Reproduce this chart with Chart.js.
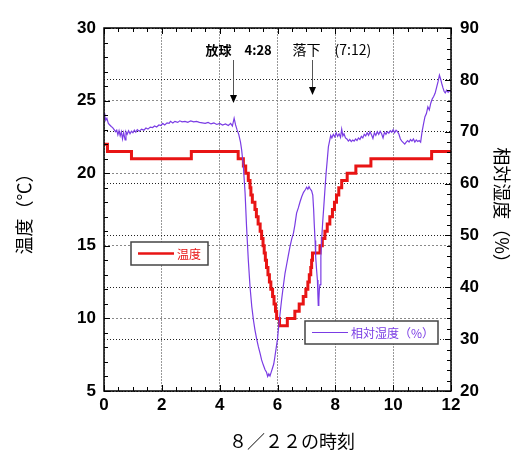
<!DOCTYPE html>
<html>
<head>
<meta charset="utf-8">
<script src="https://cdn.jsdelivr.net/npm/chart.js@4/dist/chart.umd.min.js"></script>
<style>
  body { margin: 0; background: #fff; }
</style>
</head>
<body>
<canvas id="graph1" width="513" height="452"></canvas>
<script>
// 温度: step start time (h) and value (℃)
const tempHours  = [0, 0.12, 0.95, 3.02, 4.64, 4.82, 4.90, 4.99, 5.05, 5.08, 5.13, 5.22, 5.27, 5.33, 5.40, 5.45, 5.50, 5.54, 5.58, 5.62, 5.67, 5.72, 5.77, 5.83, 5.88, 5.93, 5.97, 6.07, 6.34, 6.60, 6.75, 6.89, 6.98, 7.05, 7.10, 7.15, 7.18, 7.21, 7.47, 7.55, 7.64, 7.72, 7.81, 7.90, 7.97, 8.04, 8.12, 8.22, 8.41, 8.71, 9.23, 11.33, 12];
const tempValues = [22, 21.5, 21, 21.5, 21, 20.5, 20, 19.5, 19, 18.5, 18, 17.5, 17, 16.5, 16, 15.5, 15, 14.5, 14, 13.5, 13, 12.5, 12, 11.5, 11, 10.5, 10, 9.5, 10, 10.5, 11, 11.5, 12, 12.5, 13, 13.5, 14, 14.5, 15, 15.5, 16, 16.5, 17, 17.5, 18, 18.5, 19, 19.5, 20, 20.5, 21, 21.5, 21.5];

// 相対湿度 (%)
const humHours  = [0, 0.03, 0.06, 0.10, 0.15, 0.20, 0.25, 0.30, 0.35, 0.40, 0.44, 0.48, 0.52, 0.56, 0.60, 0.64, 0.68, 0.73, 0.76, 0.80, 0.85, 0.90, 0.95, 1.00, 1.05, 1.10, 1.15, 1.22, 1.30, 1.38, 1.45, 1.52, 1.60, 1.68, 1.75, 1.82, 1.90, 1.97, 2.03, 2.10, 2.18, 2.25, 2.30, 2.38, 2.45, 2.55, 2.62, 2.70, 2.80, 2.90, 3.00, 3.10, 3.20, 3.30, 3.40, 3.50, 3.60, 3.70, 3.80, 3.90, 4.00, 4.10, 4.20, 4.30, 4.38, 4.44, 4.50, 4.55, 4.60, 4.66, 4.72, 4.76, 4.82, 4.88, 4.93, 4.99, 5.05, 5.11, 5.17, 5.22, 5.28, 5.34, 5.40, 5.45, 5.51, 5.57, 5.62, 5.66, 5.70, 5.74, 5.78, 5.82, 5.87, 5.91, 5.96, 6.00, 6.03, 6.08, 6.14, 6.20, 6.26, 6.31, 6.37, 6.43, 6.49, 6.55, 6.60, 6.66, 6.72, 6.78, 6.84, 6.90, 6.96, 7.01, 7.05, 7.09, 7.13, 7.18, 7.22, 7.25, 7.27, 7.30, 7.32, 7.35, 7.38, 7.40, 7.41, 7.43, 7.45, 7.47, 7.50, 7.53, 7.56, 7.60, 7.64, 7.68, 7.72, 7.76, 7.80, 7.84, 7.88, 7.93, 7.98, 8.03, 8.08, 8.13, 8.18, 8.22, 8.26, 8.30, 8.35, 8.40, 8.45, 8.50, 8.55, 8.60, 8.65, 8.70, 8.75, 8.80, 8.85, 8.90, 8.95, 9.00, 9.05, 9.10, 9.15, 9.20, 9.25, 9.30, 9.35, 9.40, 9.45, 9.50, 9.55, 9.60, 9.65, 9.70, 9.75, 9.80, 9.85, 9.90, 9.95, 10.00, 10.05, 10.10, 10.15, 10.20, 10.25, 10.30, 10.35, 10.40, 10.45, 10.50, 10.55, 10.60, 10.65, 10.70, 10.75, 10.80, 10.85, 10.90, 10.95, 11.00, 11.05, 11.10, 11.15, 11.20, 11.25, 11.30, 11.35, 11.40, 11.45, 11.50, 11.55, 11.60, 11.64, 11.68, 11.72, 11.76, 11.80, 11.85, 11.90, 11.95, 12.00];
const humValues = [73.5, 73.0, 72.2, 72.6, 71.6, 71.3, 71.0, 70.8, 70.4, 70.0, 70.3, 69.4, 70.2, 69.2, 70.0, 68.6, 69.8, 68.4, 70.0, 69.5, 70.2, 69.6, 70.1, 69.8, 70.3, 69.9, 70.4, 70.1, 70.5, 70.3, 70.7, 70.5, 70.9, 70.8, 71.1, 70.9, 71.3, 71.2, 71.6, 71.3, 71.7, 71.6, 72.0, 71.7, 72.0, 71.8, 72.1, 71.9, 72.0, 71.8, 72.1, 71.9, 72.0, 71.8, 71.7, 71.6, 71.8, 71.5, 71.7, 71.4, 71.6, 71.3, 71.5, 71.2, 71.6, 71.1, 72.6, 71.3, 70.4, 69.5, 68.0, 66.5, 63.3, 58.1, 51.7, 45.3, 40.1, 36.3, 33.6, 31.8, 30.0, 28.5, 27.2, 26.0, 25.0, 24.1, 23.6, 22.8, 23.3, 22.9, 23.6, 24.3, 25.2, 26.6, 28.5, 30.0, 31.8, 34.5, 37.5, 40.2, 42.7, 44.2, 46.0, 47.8, 49.3, 50.4, 52.0, 54.3, 55.3, 56.5, 57.5, 58.3, 58.8, 59.3, 58.9, 59.4, 59.0, 58.6, 57.8, 55.0, 52.3, 49.0, 45.9, 43.5, 41.4, 38.0, 36.5, 37.5, 39.8, 40.5, 45.9, 49.5, 52.3, 55.5, 58.8, 62.0, 64.5, 67.1, 68.2, 69.3, 68.8, 69.5, 69.0, 69.8, 69.1, 69.6, 68.9, 70.5, 69.2, 69.6, 68.8, 68.6, 68.2, 68.5, 68.1, 68.4, 68.2, 68.6, 68.3, 68.8, 68.5, 69.1, 68.8, 69.5, 69.2, 69.8, 69.3, 70.0, 69.4, 68.7, 69.8, 69.3, 70.0, 69.5, 70.1, 69.6, 68.8, 69.9, 69.5, 70.0, 69.7, 70.2, 69.9, 70.4, 69.8, 70.3, 70.0, 69.5, 68.6, 68.2, 67.9, 67.6, 68.0, 68.3, 68.0, 68.5, 68.2, 68.6, 68.0, 68.4, 68.1, 68.3, 68.0, 70.0, 71.5, 72.9, 73.5, 74.8, 74.2, 75.5, 76.3, 76.8, 77.4, 78.5, 79.6, 80.9, 80.2, 79.3, 78.5, 77.8, 77.5, 78.0, 77.6, 77.9, 77.7];

const events     = ['放球　4:28', '落下　(7:12)'];
const eventHours = [4.47, 7.2];

const tempColor = '#e81414';
const humColor  = '#7a3ce4';

const decor = {
  id: 'decor',
  afterDatasetsDraw(chart) {
    const {ctx, chartArea: a, scales: {x, y, y2}} = chart;
    ctx.save();
    ctx.strokeStyle = '#000';
    ctx.lineWidth = 1;
    ctx.beginPath();
    for (let v = x.min; v <= x.max; v += 0.5) {
      const px = Math.round(x.getPixelForValue(v)) + 0.5;
      const len = v % 2 === 0 ? 6 : 4;
      ctx.moveTo(px, a.bottom); ctx.lineTo(px, a.bottom - len);
      ctx.moveTo(px, a.top); ctx.lineTo(px, a.top + len);
    }
    for (let v = y.min; v <= y.max; v += 1) {
      const py = Math.round(y.getPixelForValue(v)) + 0.5;
      ctx.moveTo(a.left, py); ctx.lineTo(a.left + (v % 5 === 0 ? 6 : 4), py);
    }
    for (let v = y2.min; v <= y2.max; v += 2) {
      const py = Math.round(y2.getPixelForValue(v)) + 0.5;
      ctx.moveTo(a.right, py); ctx.lineTo(a.right - (v % 10 === 0 ? 6 : 4), py);
    }
    ctx.stroke();
    ctx.lineWidth = 1.5;
    ctx.strokeRect(a.left, a.top, a.right - a.left, a.bottom - a.top);

    // arrows for launch / landing
    events.forEach((txt, i) => {
      const ax = Math.round(x.getPixelForValue(eventHours[i])) + 0.5;
      const tip = a.top + (i === 0 ? 75 : 67);
      ctx.strokeStyle = '#555';
      ctx.lineWidth = 1;
      ctx.beginPath();
      ctx.moveTo(ax, a.top + 32); ctx.lineTo(ax, tip - 5);
      ctx.stroke();
      ctx.fillStyle = '#000';
      ctx.beginPath();
      ctx.moveTo(ax - 3.5, tip - 8); ctx.lineTo(ax + 3.5, tip - 8); ctx.lineTo(ax, tip);
      ctx.closePath(); ctx.fill();
      ctx.font = i === 0 ? 'bold 13px "Noto Sans CJK JP"' : '14px "Noto Sans CJK JP"';
      ctx.textAlign = 'left';
      ctx.textBaseline = 'alphabetic';
      ctx.fillText(txt, ax + (i === 0 ? -28 : -20), a.top + 27);
    });

    // legend boxes
    const boxes = [
      {x: a.left + 27, y: a.top + 214, w: 77, h: 23, color: tempColor, lw: 2.5, text: '温度'},
      {x: a.left + 201, y: a.top + 293, w: 133, h: 23, color: humColor, lw: 1.2, text: '相対湿度（%）'}
    ];
    boxes.forEach(b => {
      ctx.fillStyle = '#fff';
      ctx.fillRect(b.x, b.y, b.w, b.h);
      ctx.strokeStyle = '#444';
      ctx.lineWidth = 1.5;
      ctx.strokeRect(b.x, b.y, b.w, b.h);
      ctx.strokeStyle = b.color;
      ctx.lineWidth = b.lw;
      ctx.beginPath();
      ctx.moveTo(b.x + 7, b.y + b.h / 2); ctx.lineTo(b.x + 43, b.y + b.h / 2);
      ctx.stroke();
      ctx.fillStyle = b.color;
      ctx.font = '12px "Noto Sans CJK JP"';
      ctx.textBaseline = 'middle';
      ctx.fillText(b.text, b.x + 46, b.y + b.h / 2 + 1);
    });

    // x axis title
    ctx.fillStyle = '#000';
    ctx.font = '18px "Noto Sans CJK JP"';
    ctx.textAlign = 'center';
    ctx.textBaseline = 'middle';
    ctx.fillText('８／２２の時刻', 292, 441);
    ctx.restore();
  }
};

const tickFont = {family: 'Arial, "Liberation Sans"', size: 17, weight: 'bold'};
const titleFont = {family: '"Noto Sans CJK JP"', size: 18};

new Chart(document.getElementById('graph1'), {
  type: 'line',
  data: {
    datasets: [{
      label: '相対湿度（%）',
      data: humHours.map((h, i) => ({x: h, y: humValues[i]})),
      yAxisID: 'y2',
      borderColor: humColor,
      borderWidth: 1.2,
      pointRadius: 0,
      tension: 0
    }, {
      label: '温度',
      data: tempHours.map((h, i) => ({x: h, y: tempValues[i]})),
      yAxisID: 'y',
      borderColor: tempColor,
      borderWidth: 3,
      pointRadius: 0,
      stepped: 'before'
    }]
  },
  options: {
    responsive: false,
    animation: false,
    layout: { padding: {top: 28, left: 0, right: 0, bottom: 0} },
    plugins: { legend: {display: false}, tooltip: {enabled: false} },
    scales: {
      x: {
        type: 'linear', min: 0, max: 12,
        afterFit: s => { s.height = 61; },
        ticks: {stepSize: 2, color: '#000', font: tickFont, padding: 4, maxRotation: 0},
        grid: {color: '#999', drawTicks: false},
        border: {display: false, dash: [2, 1]}
      },
      y: {
        position: 'left', min: 5, max: 30,
        afterFit: s => { s.width = 104; },
        ticks: {stepSize: 5, color: '#000', font: tickFont, padding: 8},
        grid: {color: '#888', drawTicks: false},
        border: {display: false, dash: [2, 2]},
        title: {display: true, text: '温度（℃）', font: titleFont, color: '#000', padding: {top: 13}}
      },
      y2: {
        position: 'right', min: 20, max: 90,
        afterFit: s => { s.width = 62; },
        ticks: {stepSize: 10, color: '#000', font: tickFont, padding: 9},
        grid: {color: '#222', drawTicks: false},
        border: {display: false, dash: [1, 2]},
        title: {display: true, text: '相対湿度（%）', font: titleFont, color: '#000', padding: {top: 0}}
      }
    }
  },
  plugins: [decor]
});
</script>
</body>
</html>
